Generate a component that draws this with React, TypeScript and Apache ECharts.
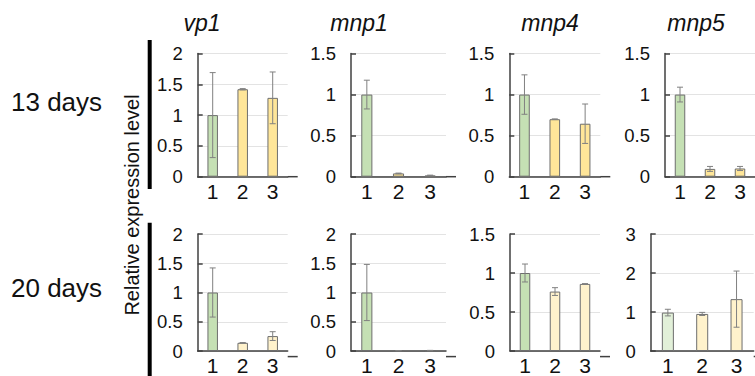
import React, { useEffect, useRef } from "react";
import * as echarts from "echarts";

// ---------- data ----------
const CATEGORIES = ["1", "2", "3"];
const GENES = ["vp1", "mnp1", "mnp4", "mnp5"];
const ROW_LABELS = ["13 days", "20 days"];
const Y_TITLE = "Relative expression level";

// 13 days: means and error (± SD)
const D13_VP1 = [1.0, 1.42, 1.28];
const E13_VP1 = [0.69, 0.01, 0.42];
const D13_MNP1 = [1.0, 0.04, 0.015];
const E13_MNP1 = [0.175, 0.004, 0.004];
const D13_MNP4 = [1.0, 0.7, 0.645];
const E13_MNP4 = [0.24, 0.004, 0.24];
const D13_MNP5 = [1.0, 0.095, 0.1];
const E13_MNP5 = [0.09, 0.03, 0.025];

// 20 days
const D20_VP1 = [1.0, 0.14, 0.255];
const E20_VP1 = [0.42, 0.004, 0.075];
const D20_MNP1 = [1.0, 0.006, 0.008];
const E20_MNP1 = [0.48, 0.002, 0.003];
const D20_MNP4 = [1.0, 0.762, 0.86];
const E20_MNP4 = [0.115, 0.05, 0.004];
const D20_MNP5 = [0.985, 0.95, 1.33];
const E20_MNP5 = [0.085, 0.04, 0.72];

// y-axis scales
const Y_MAX_13 = [2, 1.5, 1.5, 1.5];
const Y_INT_13 = [0.5, 0.5, 0.5, 0.5];
const Y_MAX_20 = [2, 2, 1.5, 3];
const Y_INT_20 = [0.5, 0.5, 0.5, 1];

// ---------- styles / layout ----------
const FONT = "'Liberation Sans', Arial, Helvetica, sans-serif";
const GREEN = "#c5e0b4";
const GREEN_LIGHT = "#e2f0d9";
const YELLOW = "#ffe699";
const YELLOW_LIGHT = "#fff2cc";
const BORDER = "#6e6e6e";
const AXIS = "#404040";
const ERR = "#808080";

const ROW_LAYOUT = [
  { top: 53.5, height: 123.2 },
  { top: 234, height: 122.6 },
];
const COL_LAYOUT = [
  [
    { left: 197.7, width: 90 },
    { left: 351, width: 95 },
    { left: 509.3, width: 91 },
    { left: 665, width: 90 },
  ],
  [
    { left: 197.7, width: 90 },
    { left: 351, width: 95 },
    { left: 510, width: 90 },
    { left: 650.7, width: 103 },
  ],
];
const TITLE_X = [202, 359, 550, 696];

export default function App() {
  const ref = useRef<HTMLDivElement>(null);

  useEffect(() => {
    document.body.style.margin = "0";
    if (!ref.current) return;
    const chart = echarts.init(ref.current, undefined, { renderer: "svg" });

    const rows = [
      {
        means: [D13_VP1, D13_MNP1, D13_MNP4, D13_MNP5],
        errs: [E13_VP1, E13_MNP1, E13_MNP4, E13_MNP5],
        max: Y_MAX_13,
        interval: Y_INT_13,
      },
      {
        means: [D20_VP1, D20_MNP1, D20_MNP4, D20_MNP5],
        errs: [E20_VP1, E20_MNP1, E20_MNP4, E20_MNP5],
        max: Y_MAX_20,
        interval: Y_INT_20,
      },
    ];

    const grids: any[] = [];
    const xAxes: any[] = [];
    const yAxes: any[] = [];
    const series: any[] = [];
    const graphics: any[] = [];

    rows.forEach((row, r) => {
      for (let c = 0; c < 4; c++) {
        const idx = r * 4 + c;
        const lay = COL_LAYOUT[r][c];
        const rl = ROW_LAYOUT[r];
        grids.push({
          left: lay.left,
          top: rl.top,
          width: lay.width,
          height: rl.height,
          containLabel: false,
        });
        xAxes.push({
          type: "category",
          gridIndex: idx,
          data: CATEGORIES,
          axisLine: { show: true, lineStyle: { color: AXIS, width: 1.5 } },
          axisTick: { show: false },
          axisLabel: {
            color: "#111",
            fontSize: 21,
            fontFamily: FONT,
            margin: 4,
          },
          splitLine: { show: false },
        });
        yAxes.push({
          type: "value",
          gridIndex: idx,
          min: 0,
          max: row.max[c],
          interval: row.interval[c],
          axisLine: { show: true, lineStyle: { color: AXIS, width: 1.5 } },
          axisTick: {
            show: true,
            inside: true,
            length: 5,
            lineStyle: { color: AXIS, width: 1.5 },
          },
          axisLabel: {
            color: "#111",
            fontSize: 18.5,
            fontFamily: FONT,
            margin: 15,
          },
          splitLine: { show: true, lineStyle: { color: "#e3e3e3", width: 1 } },
        });

        const green = r === 1 && c === 3 ? GREEN_LIGHT : GREEN;
        const yellow = r === 0 ? YELLOW : YELLOW_LIGHT;
        const means = row.means[c];
        const errs = row.errs[c];

        series.push({
          type: "bar",
          xAxisIndex: idx,
          yAxisIndex: idx,
          barWidth: "35%",
          data: means.map((v, i) => ({
            value: v,
            itemStyle: {
              color: i === 0 ? green : yellow,
              borderColor: BORDER,
              borderWidth: 1,
            },
          })),
          z: 2,
        });

        series.push({
          type: "custom",
          xAxisIndex: idx,
          yAxisIndex: idx,
          z: 5,
          data: means.map((v, i) => [i, v, errs[i]]),
          renderItem: (params: any, api: any) => {
            const x = api.value(0);
            const m = api.value(1);
            const e = api.value(2);
            const hi = api.coord([x, m + e]);
            const lo = api.coord([x, Math.max(0, m - e)]);
            const w = 3;
            const style = { stroke: ERR, lineWidth: 1 };
            return {
              type: "group",
              children: [
                { type: "line", shape: { x1: hi[0], y1: hi[1], x2: lo[0], y2: lo[1] }, style },
                { type: "line", shape: { x1: hi[0] - w, y1: hi[1], x2: hi[0] + w, y2: hi[1] }, style },
                { type: "line", shape: { x1: lo[0] - w, y1: lo[1], x2: lo[0] + w, y2: lo[1] }, style },
              ],
            };
          },
        });

        // x-axis line extends a little past the plot area
        const bottom = rl.top + rl.height;
        graphics.push({
          type: "line",
          shape: { x1: lay.left + lay.width, y1: bottom, x2: lay.left + lay.width + 10, y2: bottom },
          style: { stroke: AXIS, lineWidth: 1.5 },
          z: 10,
        });
      }
    });

    // gene titles
    GENES.forEach((g, c) => {
      graphics.push({
        type: "text",
        x: TITLE_X[c],
        y: 23,
        style: {
          text: g,
          fontSize: 23,
          fontStyle: "italic",
          fontFamily: FONT,
          fill: "#111",
          align: "center",
          verticalAlign: "middle",
        },
      });
    });

    // row labels
    const rowLabelY = [102, 288];
    ROW_LABELS.forEach((t, r) => {
      graphics.push({
        type: "text",
        x: 11,
        y: rowLabelY[r],
        style: {
          text: t,
          fontSize: 26,
          fontFamily: FONT,
          fill: "#111",
          align: "left",
          verticalAlign: "middle",
        },
      });
    });

    // vertical black bars
    graphics.push({
      type: "rect",
      shape: { x: 147.7, y: 40, width: 4, height: 149 },
      style: { fill: "#000" },
    });
    graphics.push({
      type: "rect",
      shape: { x: 147.7, y: 222.7, width: 4, height: 160 },
      style: { fill: "#000" },
    });

    // shared y title
    graphics.push({
      type: "text",
      x: 131.5,
      y: 205,
      rotation: Math.PI / 2,
      style: {
        text: Y_TITLE,
        fontSize: 20,
        fontFamily: FONT,
        fill: "#111",
        align: "center",
        verticalAlign: "middle",
      },
    });

    chart.setOption({
      animation: false,
      backgroundColor: "#ffffff",
      grid: grids,
      xAxis: xAxes,
      yAxis: yAxes,
      series,
      graphic: graphics,
    });

    return () => chart.dispose();
  }, []);

  return <div ref={ref} style={{ width: 755, height: 376 }} />;
}
